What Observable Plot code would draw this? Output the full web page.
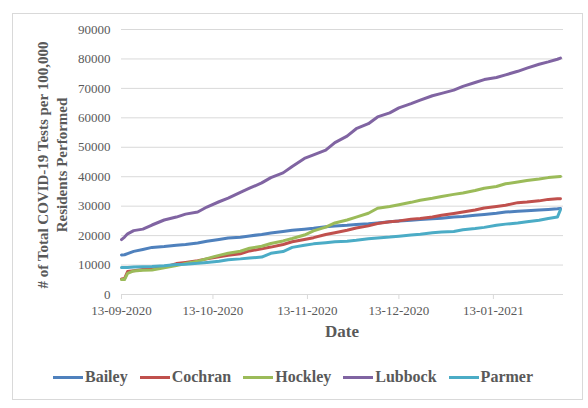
<!DOCTYPE html>
<html>
<head>
<meta charset="utf-8">
<script src="https://cdn.jsdelivr.net/npm/d3@7"></script>
<script src="https://cdn.jsdelivr.net/npm/@observablehq/plot@0.6"></script>
<style>
  html, body { margin: 0; padding: 0; background: #ffffff; }
  #wrap { position: relative; width: 588px; height: 408px; overflow: hidden; font-family: "Liberation Serif", "Times New Roman", serif; }
  #frame { position: absolute; left: 12px; top: 13px; width: 571px; height: 387px; border: 1px solid #d9d9d9; box-sizing: border-box; }
  #chart { position: absolute; left: 0; top: 0; }
  #chart svg, #chart svg text { font-family: "Liberation Serif", "Times New Roman", serif !important; }
  #legend { position: absolute; left: 53px; top: 368px; display: flex; align-items: center; gap: 12px; font: bold 16px "Liberation Serif", serif; color: #595959; white-space: nowrap; }
  .item { display: flex; align-items: center; gap: 2px; }
  .sw { width: 30px; height: 3px; display: inline-block; }
</style>
</head>
<body>
<div id="wrap">
  <div id="frame"></div>
  <div id="chart"></div>
  <div id="legend"></div>
</div>
<script>
// ---- data ----
const dates = ["2020-09-13","2020-09-14","2020-09-15","2020-09-17","2020-09-20","2020-09-23","2020-09-27",
  "2020-10-01","2020-10-04","2020-10-08","2020-10-11","2020-10-15","2020-10-18","2020-10-22","2020-10-25","2020-10-29",
  "2020-11-01","2020-11-05","2020-11-08","2020-11-12","2020-11-15","2020-11-19","2020-11-22","2020-11-26","2020-11-29",
  "2020-12-03","2020-12-06","2020-12-10","2020-12-13","2020-12-17","2020-12-20","2020-12-24","2020-12-27","2020-12-31",
  "2021-01-03","2021-01-07","2021-01-10","2021-01-14","2021-01-17","2021-01-21","2021-01-24","2021-01-28","2021-01-31",
  "2021-02-03","2021-02-04"];

const bailey = [13450,13500,13900,14650,15300,16000,16300,16700,17000,17500,18100,18700,19200,19450,19900,20400,
  20850,21400,21800,22200,22500,23000,23300,23500,23800,24000,24300,24700,24950,25200,25450,25700,25900,26300,
  26500,26900,27200,27600,28000,28300,28450,28700,28900,29100,29200];
const cochran = [5300,5400,7800,8100,8500,8700,9300,10500,10900,11500,12100,12800,13300,13850,14800,15500,
  16100,17000,17900,18700,19300,20400,21000,21800,22600,23300,24100,24700,25000,25600,25800,26300,26900,27500,
  28000,28700,29400,29900,30300,31200,31400,31800,32300,32500,32550];
const hockley = [5100,5100,7200,8000,8200,8300,9100,9800,10500,11300,12200,13300,14000,14700,15700,16400,
  17300,18200,19000,20200,21600,22900,24300,25300,26300,27600,29300,29900,30500,31300,32000,32700,33300,34000,
  34500,35300,36100,36700,37600,38200,38700,39200,39700,40000,40100];
const lubbock = [18650,19500,20600,21700,22200,23600,25300,26300,27300,28000,29700,31500,32700,34700,36100,37900,
  39700,41300,43500,46200,47400,49000,51600,53800,56300,58000,60300,61700,63400,64800,66000,67500,68300,69400,
  70700,72000,73000,73700,74600,75800,76900,78200,79000,79900,80300];
const parmer = [9150,9150,9200,9300,9400,9500,9800,10200,10300,10600,10900,11300,11800,12100,12400,12700,
  14000,14600,16000,16700,17200,17600,17900,18100,18400,18900,19200,19500,19800,20200,20500,21000,21200,21400,
  22000,22400,22800,23500,23900,24300,24700,25200,25800,26300,28800];

const seriesNames = ["Bailey","Cochran","Hockley","Lubbock","Parmer"];
const seriesColors = ["#4F81BD","#C0504D","#9BBB59","#8064A2","#4BACC6"];
const xTickDates = ["2020-09-13","2020-10-13","2020-11-13","2020-12-13","2021-01-13"];
const yTicks = [0,10000,20000,30000,40000,50000,60000,70000,80000,90000];
const xDomain = ["2020-09-13","2021-02-05"];
const yLabelLines = ["# of Total COVID-19 Tests per 100,000", "Residents Performed"];
const xLabel = "Date";

// ---- build table ----
const seriesValues = [bailey, cochran, hockley, lubbock, parmer];
const rows = [];
seriesNames.forEach((name, i) => {
  dates.forEach((d, j) => rows.push({series: name, date: new Date(d + "T00:00:00Z"), value: seriesValues[i][j]}));
});
const parse = s => new Date(s + "T00:00:00Z");

const W = 588, H = 408;
const chart = Plot.plot({
  width: W, height: H,
  marginLeft: 121, marginRight: 25, marginTop: 29, marginBottom: 114,
  style: {fontFamily: "Liberation Serif, serif", fontSize: "13px", color: "#595959", background: "transparent", overflow: "visible"},
  x: {type: "utc", domain: xDomain.map(parse)},
  y: {domain: [0, 90000]},
  color: {domain: seriesNames, range: seriesColors},
  marks: [
    Plot.gridY(yTicks, {stroke: "#d9d9d9", strokeOpacity: 1, strokeWidth: 1}),
    Plot.axisY(yTicks, {tickSize: 0, tickPadding: 11, tickFormat: d3.format("d"), fontSize: 13, fill: "#595959", label: null}),
    Plot.ruleY([0], {stroke: "#d9d9d9", strokeWidth: 1}),
    Plot.axisX(xTickDates.map(parse), {tickSize: 5, tickPadding: 6, stroke: "#d9d9d9", strokeOpacity: 1, fill: "#595959",
      tickFormat: d3.utcFormat("%d-%m-%Y"), fontSize: 13, label: null}),
    Plot.line(rows, {x: "date", y: "value", z: "series", stroke: "series", strokeWidth: 3, strokeLinejoin: "round", strokeLinecap: "round"})
  ]
});
document.getElementById("chart").appendChild(chart);

// axis titles
const svg = d3.select(chart);
const yl = svg.append("text")
  .attr("transform", "translate(0,165) rotate(-90)")
  .attr("text-anchor", "middle")
  .attr("fill", "#595959")
  .style("font", "bold 15px 'Liberation Serif', serif");
yl.append("tspan").attr("x", 0).attr("y", 48).text(yLabelLines[0]);
yl.append("tspan").attr("x", 0).attr("y", 67).text(yLabelLines[1]);
svg.append("text")
  .attr("x", 342).attr("y", 337)
  .attr("text-anchor", "middle")
  .attr("fill", "#595959")
  .style("font", "bold 17px 'Liberation Serif', serif")
  .text(xLabel);

// legend
const legend = document.getElementById("legend");
seriesNames.forEach((n, i) => {
  const it = document.createElement("div"); it.className = "item";
  const sw = document.createElement("span"); sw.className = "sw"; sw.style.background = seriesColors[i];
  const tx = document.createElement("span"); tx.textContent = n;
  it.appendChild(sw); it.appendChild(tx); legend.appendChild(it);
});
</script>
</body>
</html>
